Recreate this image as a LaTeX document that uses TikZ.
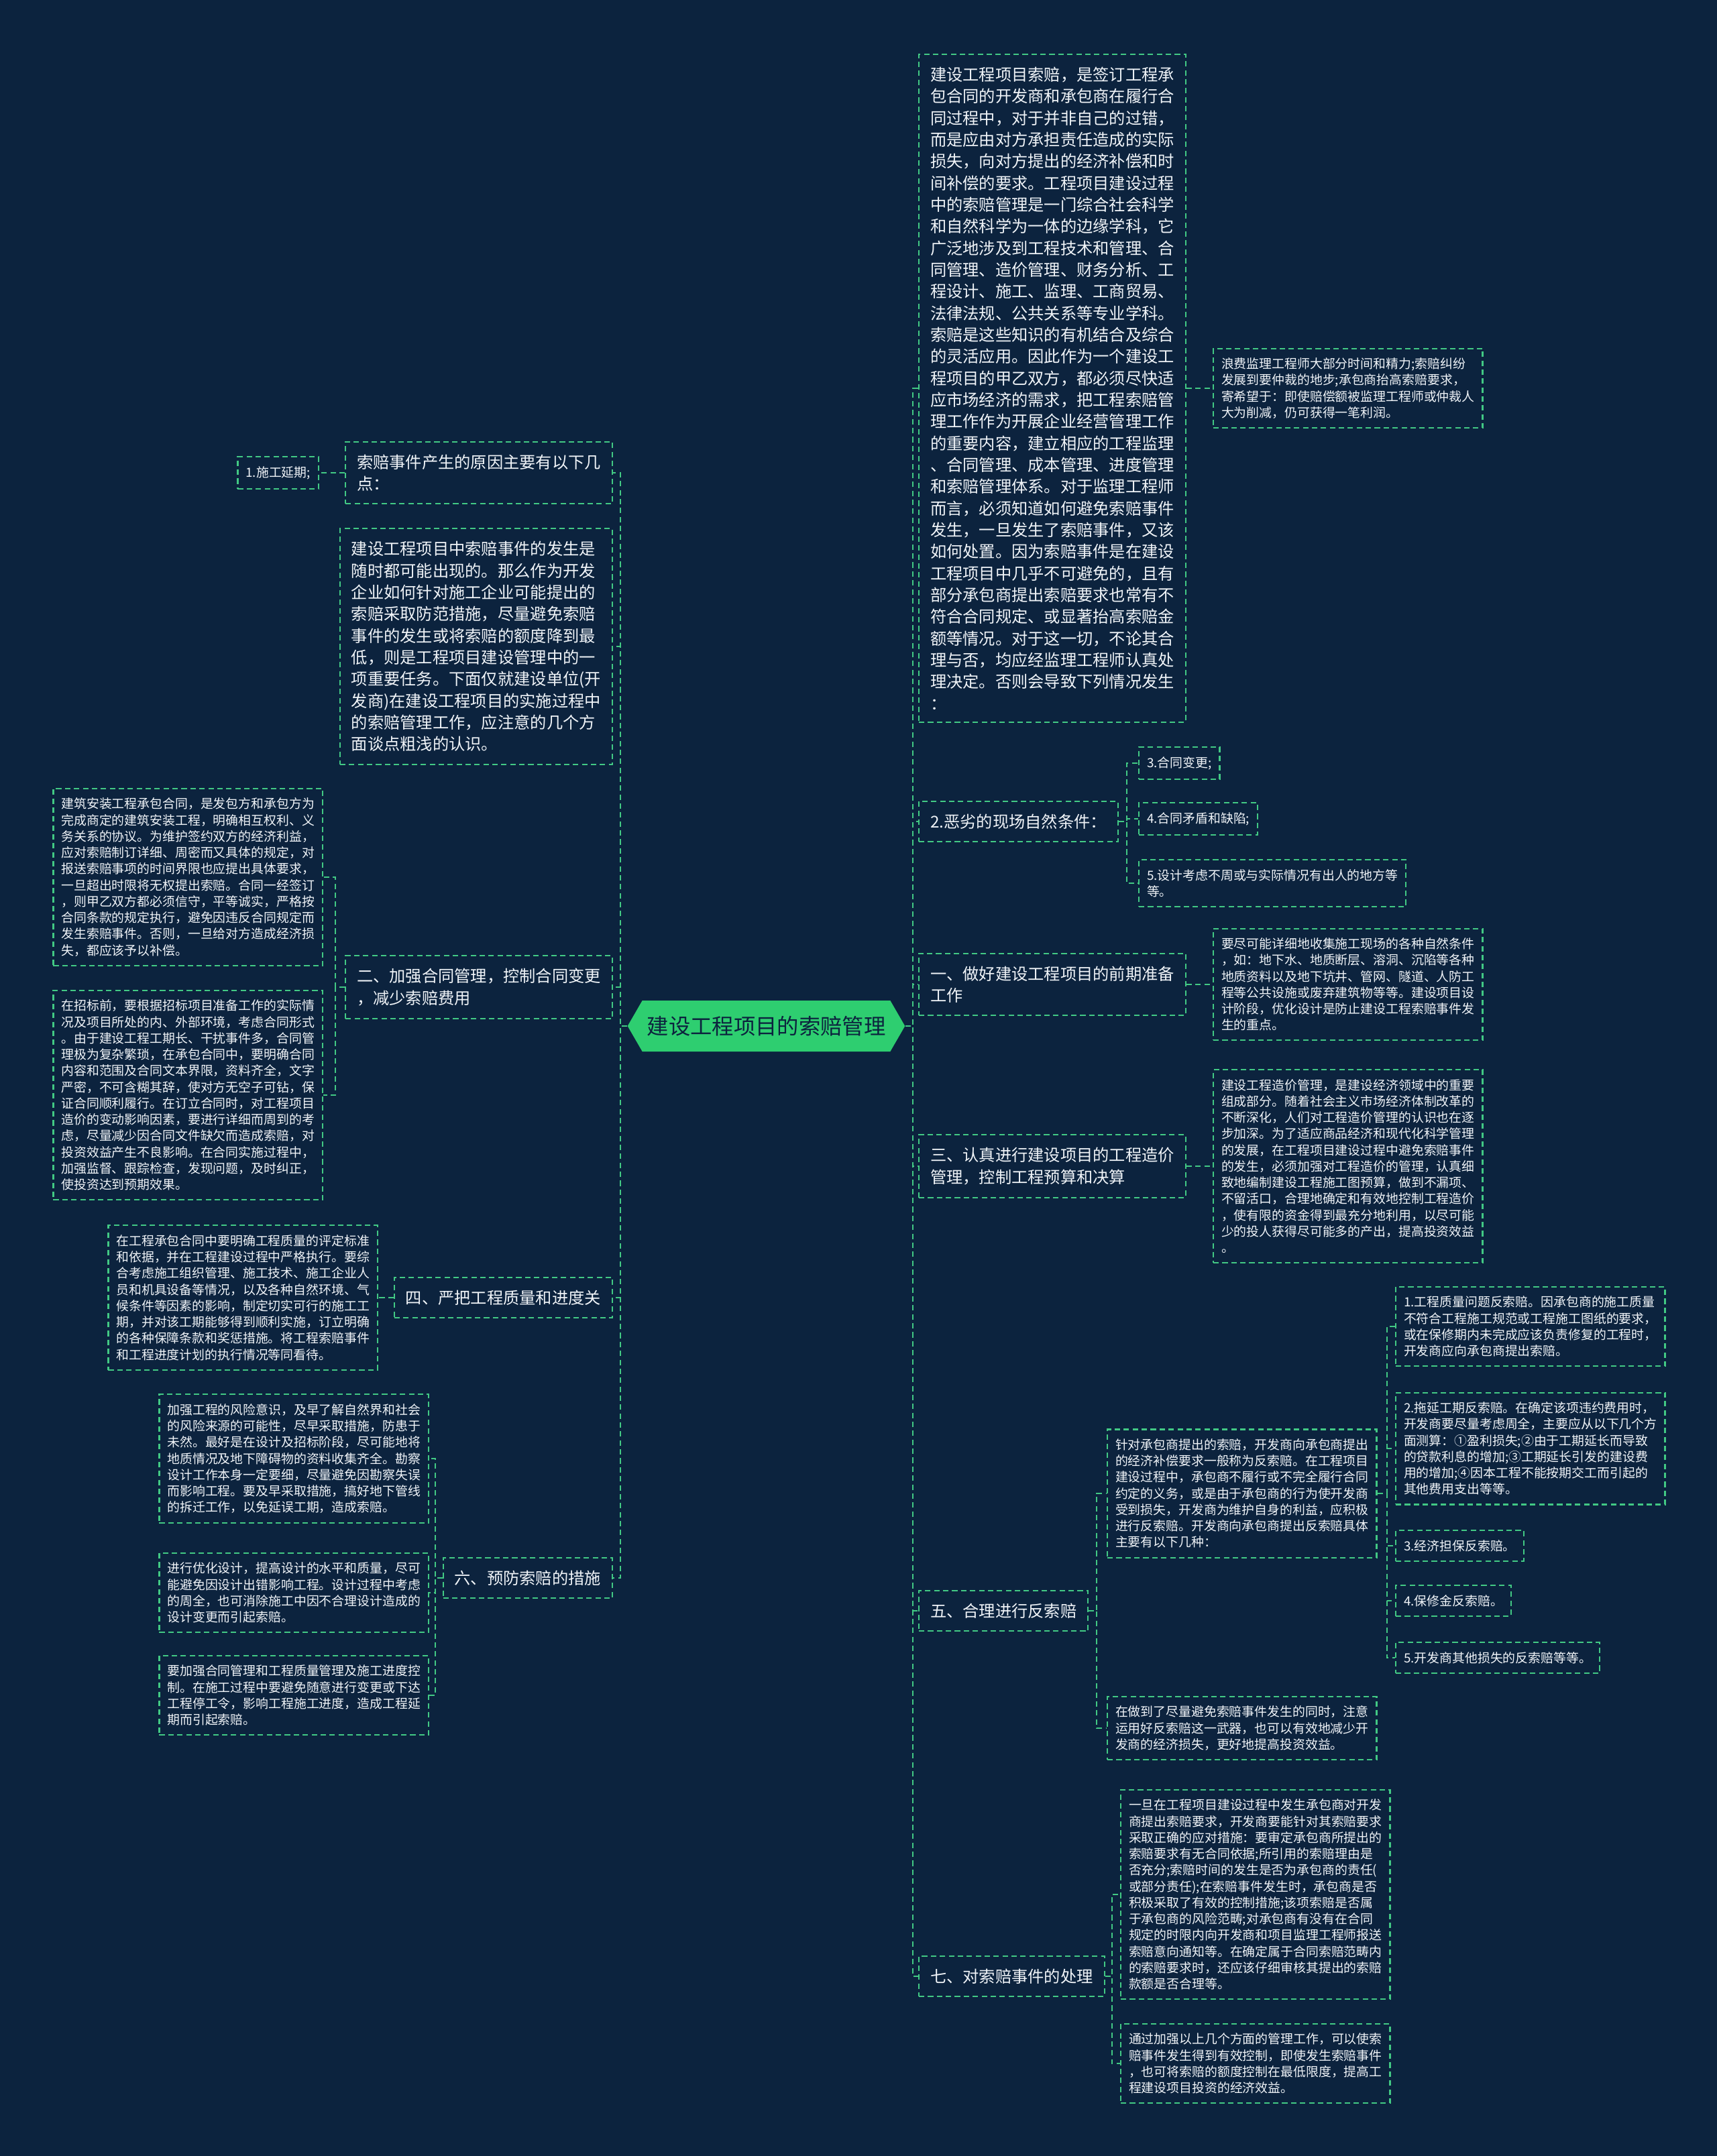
\documentclass[tikz,border=0pt]{standalone}
\usepackage{fontspec}
\usepackage{tikz}
\usetikzlibrary{shapes.symbols}
\newfontfamily\cjkfont{Noto Sans CJK SC}
\definecolor{mapbg}{RGB}{12,35,62}
\definecolor{mapgreen}{RGB}{66,201,132}
\definecolor{hubgreen}{RGB}{46,206,112}
\definecolor{maptext}{RGB}{240,244,248}

\begin{document}
\begin{tikzpicture}[x=1cm,y=1cm,
 hub/.style={shape=signal,signal to=east and west,signal pointer angle=120,fill=hubgreen,text=mapbg,font=\cjkfont\fontsize{9.2pt}{11pt}\selectfont,minimum width=3.99cm,minimum height=.76cm,inner sep=2pt},
 topic/.style={draw=mapgreen,dash pattern=on 2.3pt off 1.5pt,line width=.6pt,text=maptext,align=left,inner xsep=.17cm,inner ysep=.19cm,font=\cjkfont\fontsize{6.9pt}{9.2pt}\selectfont},
 leaf/.style={topic,inner xsep=.12cm,inner ysep=.14cm,font=\cjkfont\fontsize{5.37pt}{6.9pt}\selectfont},
 link/.style={draw=mapgreen,dash pattern=on 2.3pt off 1.5pt,line width=.6pt}]

\fill[mapbg] (0,0) rectangle (25.6,-32.15);
\useasboundingbox (0,0) rectangle (25.6,-32.15);

\node[hub] (hub) at (11.425,-15.30) {建设工程项目的索赔管理};

% right half
\node[topic,anchor=west] (r1) at (13.69,-5.79) {建设工程项目索赔，是签订工程承\\包合同的开发商和承包商在履行合\\同过程中，对于并非自己的过错，\\而是应由对方承担责任造成的实际\\损失，向对方提出的经济补偿和时\\间补偿的要求。工程项目建设过程\\中的索赔管理是一门综合社会科学\\和自然科学为一体的边缘学科，它\\广泛地涉及到工程技术和管理、合\\同管理、造价管理、财务分析、工\\程设计、施工、监理、工商贸易、\\法律法规、公共关系等专业学科。\\索赔是这些知识的有机结合及综合\\的灵活应用。因此作为一个建设工\\程项目的甲乙双方，都必须尽快适\\应市场经济的需求，把工程索赔管\\理工作作为开展企业经营管理工作\\的重要内容，建立相应的工程监理\\、合同管理、成本管理、进度管理\\和索赔管理体系。对于监理工程师\\而言，必须知道如何避免索赔事件\\发生，一旦发生了索赔事件，又该\\如何处置。因为索赔事件是在建设\\工程项目中几乎不可避免的，且有\\部分承包商提出索赔要求也常有不\\符合合同规定、或显著抬高索赔金\\额等情况。对于这一切，不论其合\\理与否，均应经监理工程师认真处\\理决定。否则会导致下列情况发生\\：};
\node[leaf,anchor=west] (r1a) at (18.08,-5.79) {浪费监理工程师大部分时间和精力;索赔纠纷\\发展到要仲裁的地步;承包商抬高索赔要求，\\寄希望于：即使赔偿额被监理工程师或仲裁人\\大为削减，仍可获得一笔利润。};
\node[topic,anchor=west] (r2) at (13.69,-12.25) {2.恶劣的现场自然条件：};
\node[leaf,anchor=west] (r2a) at (16.97,-11.38) {3.合同变更;};
\node[leaf,anchor=west] (r2b) at (16.97,-12.21) {4.合同矛盾和缺陷;};
\node[leaf,anchor=west] (r2c) at (16.97,-13.17) {5.设计考虑不周或与实际情况有出人的地方等\\等。};
\node[topic,anchor=west] (r3) at (13.69,-14.68) {一、做好建设工程项目的前期准备\\工作};
\node[leaf,anchor=west] (r3a) at (18.08,-14.68) {要尽可能详细地收集施工现场的各种自然条件\\，如：地下水、地质断层、溶洞、沉陷等各种\\地质资料以及地下坑井、管网、隧道、人防工\\程等公共设施或废弃建筑物等等。建设项目设\\计阶段，优化设计是防止建设工程索赔事件发\\生的重点。};
\node[topic,anchor=west] (r4) at (13.69,-17.39) {三、认真进行建设项目的工程造价\\管理，控制工程预算和决算};
\node[leaf,anchor=west] (r4a) at (18.08,-17.39) {建设工程造价管理，是建设经济领域中的重要\\组成部分。随着社会主义市场经济体制改革的\\不断深化，人们对工程造价管理的认识也在逐\\步加深。为了适应商品经济和现代化科学管理\\的发展，在工程项目建设过程中避免索赔事件\\的发生，必须加强对工程造价的管理，认真细\\致地编制建设工程施工图预算，做到不漏项、\\不留活口，合理地确定和有效地控制工程造价\\，使有限的资金得到最充分地利用，以尽可能\\少的投人获得尽可能多的产出，提高投资效益\\。};
\node[topic,anchor=west] (r5) at (13.69,-24.02) {五、合理进行反索赔};
\node[leaf,anchor=west] (r5a) at (16.50,-22.27) {针对承包商提出的索赔，开发商向承包商提出\\的经济补偿要求一般称为反索赔。在工程项目\\建设过程中，承包商不履行或不完全履行合同\\约定的义务，或是由于承包商的行为使开发商\\受到损失，开发商为维护自身的利益，应积极\\进行反索赔。开发商向承包商提出反索赔具体\\主要有以下几种：};
\node[leaf,anchor=west] (r5b) at (16.50,-25.77) {在做到了尽量避免索赔事件发生的同时，注意\\运用好反索赔这一武器，也可以有效地减少开\\发商的经济损失，更好地提高投资效益。};
\node[leaf,anchor=west] (g1) at (20.80,-19.78) {1.工程质量问题反索赔。因承包商的施工质量\\不符合工程施工规范或工程施工图纸的要求，\\或在保修期内未完成应该负责修复的工程时，\\开发商应向承包商提出索赔。};
\node[leaf,anchor=west] (g2) at (20.80,-21.60) {2.拖延工期反索赔。在确定该项违约费用时，\\开发商要尽量考虑周全，主要应从以下几个方\\面测算：①盈利损失;②由于工期延长而导致\\的贷款利息的增加;③工期延长引发的建设费\\用的增加;④因本工程不能按期交工而引起的\\其他费用支出等等。};
\node[leaf,anchor=west] (g3) at (20.80,-23.05) {3.经济担保反索赔。};
\node[leaf,anchor=west] (g4) at (20.80,-23.87) {4.保修金反索赔。};
\node[leaf,anchor=west] (g5) at (20.80,-24.72) {5.开发商其他损失的反索赔等等。};
\node[topic,anchor=west] (r6) at (13.69,-29.47) {七、对索赔事件的处理};
\node[leaf,anchor=west] (r6a) at (16.70,-28.25) {一旦在工程项目建设过程中发生承包商对开发\\商提出索赔要求，开发商要能针对其索赔要求\\采取正确的应对措施：要审定承包商所提出的\\索赔要求有无合同依据;所引用的索赔理由是\\否充分;索赔时间的发生是否为承包商的责任(\\或部分责任);在索赔事件发生时，承包商是否\\积极采取了有效的控制措施;该项索赔是否属\\于承包商的风险范畴;对承包商有没有在合同\\规定的时限内向开发商和项目监理工程师报送\\索赔意向通知等。在确定属于合同索赔范畴内\\的索赔要求时，还应该仔细审核其提出的索赔\\款额是否合理等。};
\node[leaf,anchor=west] (r6b) at (16.70,-30.77) {通过加强以上几个方面的管理工作，可以使索\\赔事件发生得到有效控制，即使发生索赔事件\\，也可将索赔的额度控制在最低限度，提高工\\程建设项目投资的经济效益。};

% left half
\node[topic,anchor=east] (l1) at (9.14,-7.05) {索赔事件产生的原因主要有以下几\\点：};
\node[leaf,anchor=east] (l1a) at (4.76,-7.05) {1.施工延期;};
\node[topic,anchor=east] (l2) at (9.14,-9.64) {建设工程项目中索赔事件的发生是\\随时都可能出现的。那么作为开发\\企业如何针对施工企业可能提出的\\索赔采取防范措施，尽量避免索赔\\事件的发生或将索赔的额度降到最\\低，则是工程项目建设管理中的一\\项重要任务。下面仅就建设单位(开\\发商)在建设工程项目的实施过程中\\的索赔管理工作，应注意的几个方\\面谈点粗浅的认识。};
\node[topic,anchor=east] (l3) at (9.14,-14.72) {二、加强合同管理，控制合同变更\\，减少索赔费用};
\node[leaf,anchor=east] (l3a) at (4.82,-13.08) {建筑安装工程承包合同，是发包方和承包方为\\完成商定的建筑安装工程，明确相互权利、义\\务关系的协议。为维护签约双方的经济利益，\\应对索赔制订详细、周密而又具体的规定，对\\报送索赔事项的时间界限也应提出具体要求，\\一旦超出时限将无权提出索赔。合同一经签订\\，则甲乙双方都必须信守，平等诚实，严格按\\合同条款的规定执行，避免因违反合同规定而\\发生索赔事件。否则，一旦给对方造成经济损\\失，都应该予以补偿。};
\node[leaf,anchor=east] (l3b) at (4.82,-16.33) {在招标前，要根据招标项目准备工作的实际情\\况及项目所处的内、外部环境，考虑合同形式\\。由于建设工程工期长、干扰事件多，合同管\\理极为复杂繁琐，在承包合同中，要明确合同\\内容和范围及合同文本界限，资料齐全，文字\\严密，不可含糊其辞，使对方无空子可钻，保\\证合同顺利履行。在订立合同时，对工程项目\\造价的变动影响因素，要进行详细而周到的考\\虑，尽量减少因合同文件缺欠而造成索赔，对\\投资效益产生不良影响。在合同实施过程中，\\加强监督、跟踪检查，发现问题，及时纠正，\\使投资达到预期效果。};
\node[topic,anchor=east] (l4) at (9.14,-19.35) {四、严把工程质量和进度关};
\node[leaf,anchor=east] (l4a) at (5.64,-19.35) {在工程承包合同中要明确工程质量的评定标准\\和依据，并在工程建设过程中严格执行。要综\\合考虑施工组织管理、施工技术、施工企业人\\员和机具设备等情况，以及各种自然环境、气\\候条件等因素的影响，制定切实可行的施工工\\期，并对该工期能够得到顺利实施，订立明确\\的各种保障条款和奖惩措施。将工程索赔事件\\和工程进度计划的执行情况等同看待。};
\node[topic,anchor=east] (l5) at (9.14,-23.53) {六、预防索赔的措施};
\node[leaf,anchor=east] (l5a) at (6.40,-21.75) {加强工程的风险意识，及早了解自然界和社会\\的风险来源的可能性，尽早采取措施，防患于\\未然。最好是在设计及招标阶段，尽可能地将\\地质情况及地下障碍物的资料收集齐全。勘察\\设计工作本身一定要细，尽量避免因勘察失误\\而影响工程。要及早采取措施，搞好地下管线\\的拆迁工作，以免延误工期，造成索赔。};
\node[leaf,anchor=east] (l5b) at (6.40,-23.75) {进行优化设计，提高设计的水平和质量，尽可\\能避免因设计出错影响工程。设计过程中考虑\\的周全，也可消除施工中因不合理设计造成的\\设计变更而引起索赔。};
\node[leaf,anchor=east] (l5c) at (6.40,-25.28) {要加强合同管理和工程质量管理及施工进度控\\制。在施工过程中要避免随意进行变更或下达\\工程停工令，影响工程施工进度，造成工程延\\期而引起索赔。};

% connectors: hub to the two spines, then out to each branch
\foreach \kid in {r1,r2,r3,r4,r5,r6}
 \draw[link] (hub.east) -- ++(.11,0) |- (\kid.west);
\foreach \kid in {l1,l2,l3,l4,l5}
 \draw[link] (hub.west) -- ++(-.1,0) |- (\kid.east);
\draw[link] (r1.east) -- (r1a.west);
\draw[link] (r3.east) -- (r3a.west);
\draw[link] (r4.east) -- (r4a.west);
\foreach \kid in {r2a,r2b,r2c}
 \draw[link] (r2.east) -- ++(.12,0) |- (\kid.west);
\foreach \kid in {r5a,r5b}
 \draw[link] (r5.east) -- ++(.12,0) |- (\kid.west);
\foreach \kid in {g1,g2,g3,g4,g5}
 \draw[link] (r5a.east) -- ++(.14,0) |- (\kid.west);
\foreach \kid in {r6a,r6b}
 \draw[link] (r6.east) -- ++(.1,0) |- (\kid.west);
\draw[link] (l1.west) -- (l1a.east);
\draw[link] (l4.west) -- (l4a.east);
\foreach \kid in {l3a,l3b}
 \draw[link] (l3.west) -- ++(-.14,0) |- (\kid.east);
\foreach \kid in {l5a,l5b,l5c}
 \draw[link] (l5.west) -- ++(-.11,0) |- (\kid.east);
\end{tikzpicture}
\end{document}
